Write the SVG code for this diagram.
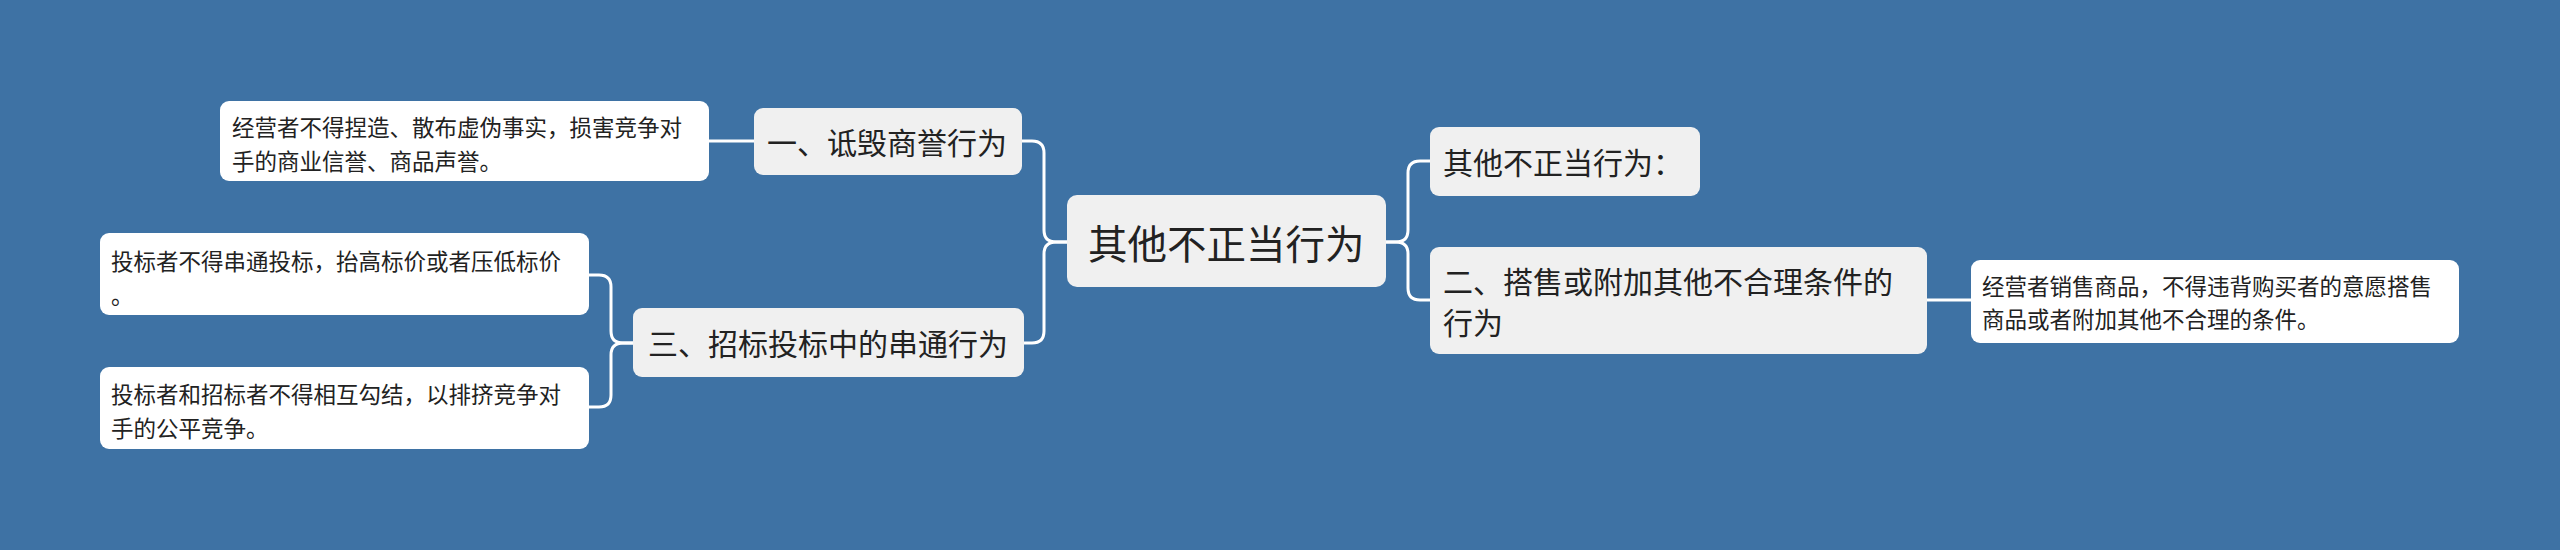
<svg xmlns="http://www.w3.org/2000/svg" width="2560" height="550" viewBox="0 0 2560 550">
<style>
.bg{fill:#3e72a4}
.main{fill:#f0f0f0}
.leaf{fill:#ffffff}
.link{fill:none;stroke:#ffffff;stroke-width:3}
text{font-family:"Noto Sans CJK SC","Noto Sans",sans-serif;fill:#222;dominant-baseline:central}
.t-root{font-size:39.5px}
.t-br{font-size:30px}
.t-leaf{font-size:22.5px}
</style>
<rect class="bg" x="0" y="0" width="2560" height="550"/>
<g id="connectors">
<path class="link" d="M1067,242 H1056 Q1044,242 1044,230 V153 Q1044,141 1032,141 H1022"/>
<path class="link" d="M1067,242 H1056 Q1044,242 1044,254 V331 Q1044,343 1032,343 H1024"/>
<path class="link" d="M1386,242 H1396 Q1408,242 1408,230 V173 Q1408,161 1420,161 H1430"/>
<path class="link" d="M1386,242 H1396 Q1408,242 1408,254 V288 Q1408,300 1420,300 H1430"/>
<path class="link" d="M754,141 H709"/>
<path class="link" d="M633,343 H623 Q611,343 611,331 V287 Q611,275 599,275 H588"/>
<path class="link" d="M633,343 H623 Q611,343 611,355 V395 Q611,407 599,407 H588"/>
<path class="link" d="M1927,300 H1971"/>
</g>
<g id="root">
<rect class="main" x="1067" y="195" width="319" height="92" rx="10"/>
<text class="t-root" x="1088" y="241">其他不正当行为</text>
</g>
<g id="b1">
<rect class="main" x="754" y="108" width="268" height="67" rx="9"/>
<text class="t-br" x="767" y="141">一、诋毁商誉行为</text>
</g>
<g id="b1-leaf">
<rect class="leaf" x="220" y="101" width="489" height="80" rx="9"/>
<text class="t-leaf" x="232" y="126">经营者不得捏造、散布虚伪事实，损害竞争对</text>
<text class="t-leaf" x="232" y="160">手的商业信誉、商品声誉。</text>
</g>
<g id="b3">
<rect class="main" x="633" y="308" width="391" height="69" rx="9"/>
<text class="t-br" x="648" y="342">三、招标投标中的串通行为</text>
</g>
<g id="b3-leaf1">
<rect class="leaf" x="100" y="233" width="489" height="82" rx="9"/>
<text class="t-leaf" x="111" y="260">投标者不得串通投标，抬高标价或者压低标价</text>
<text class="t-leaf" x="111" y="294">。</text>
</g>
<g id="b3-leaf2">
<rect class="leaf" x="100" y="367" width="489" height="82" rx="9"/>
<text class="t-leaf" x="111" y="393">投标者和招标者不得相互勾结，以排挤竞争对</text>
<text class="t-leaf" x="111" y="427">手的公平竞争。</text>
</g>
<g id="r1">
<rect class="main" x="1430" y="127" width="270" height="69" rx="9"/>
<text class="t-br" x="1443" y="161">其他不正当行为：</text>
</g>
<g id="r2">
<rect class="main" x="1430" y="247" width="497" height="107" rx="9"/>
<text class="t-br" x="1443" y="280">二、搭售或附加其他不合理条件的</text>
<text class="t-br" x="1443" y="321">行为</text>
</g>
<g id="r2-leaf">
<rect class="leaf" x="1971" y="260" width="488" height="83" rx="9"/>
<text class="t-leaf" x="1982" y="285">经营者销售商品，不得违背购买者的意愿搭售</text>
<text class="t-leaf" x="1982" y="318">商品或者附加其他不合理的条件。</text>
</g>
</svg>
